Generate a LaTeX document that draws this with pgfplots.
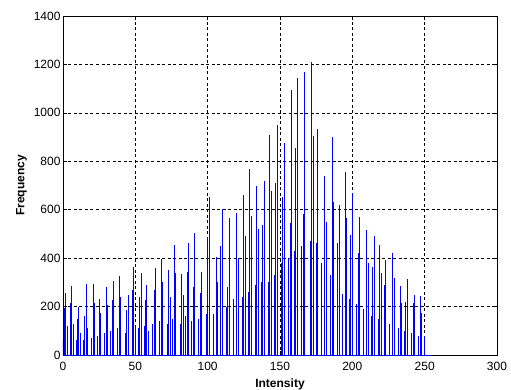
\documentclass[border=0pt]{standalone}
\usepackage{pgfplots}
\pgfplotsset{compat=1.18}
\usepackage{pgfplotstable}
\usepackage{fontspec}
\setmainfont{Liberation Sans}
\definecolor{stemblue}{RGB}{0,0,255}
\pgfplotstableread{
i v
0 60
1 194
2 255
3 120
4 0
5 215
6 285
7 130
8 0
9 60
10 150
11 200
12 90
13 0
14 60
15 160
16 293
17 110
18 0
19 0
20 70
21 293
22 215
23 0
24 80
25 231
26 175
27 0
28 0
29 90
30 281
31 208
32 0
33 100
34 227
35 307
36 0
37 0
38 110
39 326
40 241
41 0
42 0
43 90
44 186
45 248
46 0
47 0
48 268
49 365
50 120
51 0
52 110
53 240
54 338
55 0
56 120
57 227
58 289
59 100
60 0
61 0
62 130
63 268
64 359
65 0
66 0
67 140
68 397
69 303
70 0
71 0
72 130
73 351
74 241
75 0
76 150
77 454
78 339
79 0
80 0
81 130
82 334
83 248
84 0
85 160
86 344
87 462
88 0
89 140
90 282
91 503
92 0
93 0
94 150
95 256
96 344
97 0
98 0
99 170
100 489
101 654
102 0
103 0
104 170
105 0
106 406
107 300
108 0
109 450
110 603
111 0
112 0
113 200
114 282
115 567
116 0
117 0
118 230
119 0
120 585
121 399
122 0
123 0
124 240
125 661
126 492
127 0
128 260
129 768
130 574
131 0
132 0
133 290
134 698
135 520
136 0
137 300
138 537
139 719
140 0
141 0
142 300
143 909
144 679
145 0
146 330
147 710
148 950
149 0
150 0
151 380
152 654
153 874
154 0
155 0
156 400
157 545
158 1095
159 0
160 430
161 854
162 1143
163 0
164 0
165 450
166 582
167 1168
168 0
169 0
170 0
171 470
172 1209
173 905
174 0
175 464
176 933
177 0
178 0
179 380
180 0
181 739
182 548
183 0
184 0
185 330
186 900
187 633
188 0
189 0
190 462
191 620
192 0
193 250
194 0
195 757
196 564
197 0
198 230
199 496
200 670
201 0
202 0
203 210
204 423
205 569
206 0
207 0
208 190
209 0
210 516
211 381
212 0
213 160
214 365
215 492
216 0
217 0
218 150
219 453
220 337
221 0
222 290
223 392
224 0
225 0
226 130
227 0
228 420
229 318
230 0
231 0
232 110
233 285
234 214
235 0
236 100
237 220
238 313
239 0
240 0
241 90
242 213
243 248
244 0
245 0
246 80
247 244
248 175
249 0
250 80
251 0
252 0
253 0
254 0
255 0
}\histdata
\begin{document}
\begin{tikzpicture}
\begin{axis}[
  name=ax,
  scale only axis, width=434pt, height=339pt,
  xmin=0, xmax=300, ymin=0, ymax=1400,
  xtick={0,50,...,300}, ytick={0,200,...,1400},
  tick align=inside, major tick length=4pt,
  axis line style={black, line width=0.7pt},
  tick style={black, line width=0.6pt},
  grid=major,
  major grid style={black, line width=0.5pt, dash pattern=on 3pt off 2.5pt},
  ticklabel style={font=\fontsize{12}{14}\selectfont},
  /pgf/number format/assume math mode=true,
  /pgf/number format/1000 sep={},
  xlabel={\textbf{Intensity}}, ylabel={\textbf{Frequency}},
  label style={font=\fontsize{12}{14}\selectfont},
  xlabel style={yshift=-1pt},
  ylabel style={yshift=0pt},
  xticklabel style={yshift=-4pt},
  yticklabel style={xshift=1pt},
  clip=true,
]
\addplot[stemblue, line width=1pt] coordinates {(0,0) (255,0)};
\addplot[stemblue, ycomb, line width=1pt, mark=none] table[x=i, y=v] {\histdata};
\end{axis}
\path (ax.south west) ++(-63pt,-34pt) coordinate (bbA);
\path (ax.north east) ++(14pt,16pt) coordinate (bbB);
\pgfresetboundingbox
\path[use as bounding box] (bbA) rectangle (bbB);
\end{tikzpicture}
\end{document}
